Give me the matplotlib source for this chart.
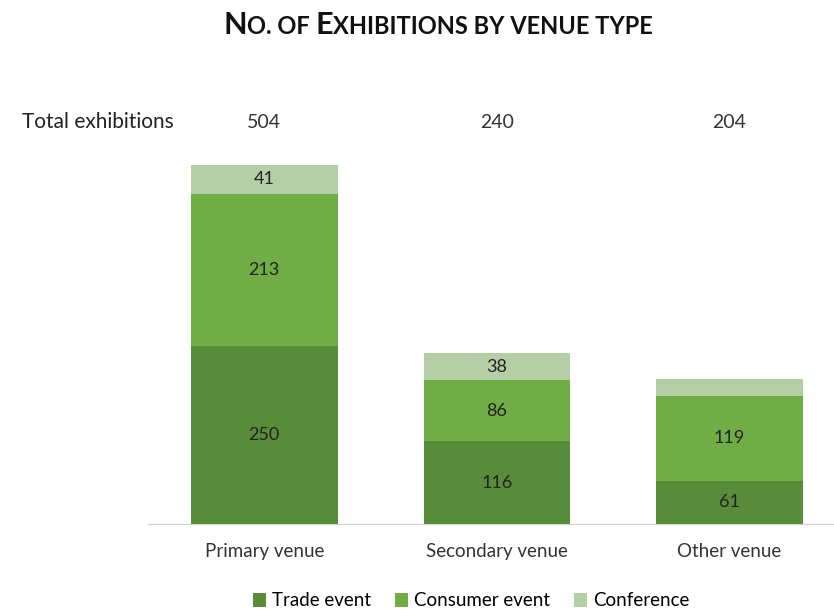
import matplotlib.pyplot as plt
import numpy as np
from matplotlib.transforms import blended_transform_factory

plt.rcParams['font.family'] = ['Lato', 'DejaVu Sans']

venues = ['Primary venue', 'Secondary venue', 'Other venue']
trade = [250, 116, 61]
consumer = [213, 86, 119]
conference = [41, 38, 24]
show_conference_label = [True, True, False]
totals = [504, 240, 204]

colors = {'Trade event': '#588B3A', 'Consumer event': '#70AD47', 'Conference': '#B4CFA5'}

fig = plt.figure(figsize=(8.34, 6.11), dpi=100)
ax = fig.add_axes([148 / 834, 87 / 611, 686 / 834, 424 / 611])

x = np.arange(len(venues))
w = 0.63
b1 = ax.bar(x, trade, w, color=colors['Trade event'], label='Trade event')
b2 = ax.bar(x, consumer, w, bottom=trade, color=colors['Consumer event'], label='Consumer event')
bottom3 = np.array(trade) + np.array(consumer)
b3 = ax.bar(x, conference, w, bottom=bottom3, color=colors['Conference'], label='Conference')

# value labels in the middle of each segment
for i in range(len(venues)):
    ax.text(x[i], trade[i] / 2, str(trade[i]), ha='center', va='center', fontsize=13, color='#222222')
    ax.text(x[i], trade[i] + consumer[i] / 2, str(consumer[i]), ha='center', va='center',
            fontsize=13, color='#222222')
    if show_conference_label[i]:
        ax.text(x[i], bottom3[i] + conference[i] / 2, str(conference[i]), ha='center', va='center',
                fontsize=13, color='#222222')

ax.set_xlim(-0.5, 2.45)
ax.set_ylim(0, 595)
for s in ['top', 'right', 'left']:
    ax.spines[s].set_visible(False)
ax.spines['bottom'].set_color('#d0d0d0')
ax.set_yticks([])
ax.set_xticks(x)
ax.set_xticklabels(venues, fontsize=13.5, color='#333333')
ax.tick_params(axis='x', length=0, pad=14)

# totals row above the bars
trans = blended_transform_factory(ax.transData, fig.transFigure)
for i, t in enumerate(totals):
    ax.text(x[i], 1 - 122 / 611, str(t), transform=trans, ha='center', va='center',
            fontsize=14, color='#333333')
fig.text(22 / 834, 1 - 122 / 611, 'Total exhibitions', ha='left', va='center',
         fontsize=15, color='#222222')

# small-caps style title built from pieces
pieces = [('N', 22), ('O. OF ', 17), ('E', 22), ('XHIBITIONS BY VENUE TYPE', 17)]
fig.canvas.draw()
r = fig.canvas.get_renderer()
texts = []
for s, fs in pieces:
    t = fig.text(0, 1 - 34 / 611, s, fontsize=fs, fontweight='bold', color='#111111',
                 ha='left', va='baseline')
    texts.append(t)
widths = [t.get_window_extent(renderer=r).width for t in texts]
total_w = sum(widths)
xpos = 438 - total_w / 2
for t, wd in zip(texts, widths):
    t.set_x(xpos / 834)
    xpos += wd

fig.legend(handles=[b1, b2, b3], loc='center', bbox_to_anchor=(471 / 834, 1 - 601 / 611),
           ncol=3, frameon=False, fontsize=13.5, handlelength=0.7, handleheight=0.7,
           handletextpad=0.3, columnspacing=1.3)

fig.savefig('out.png', dpi=100)
